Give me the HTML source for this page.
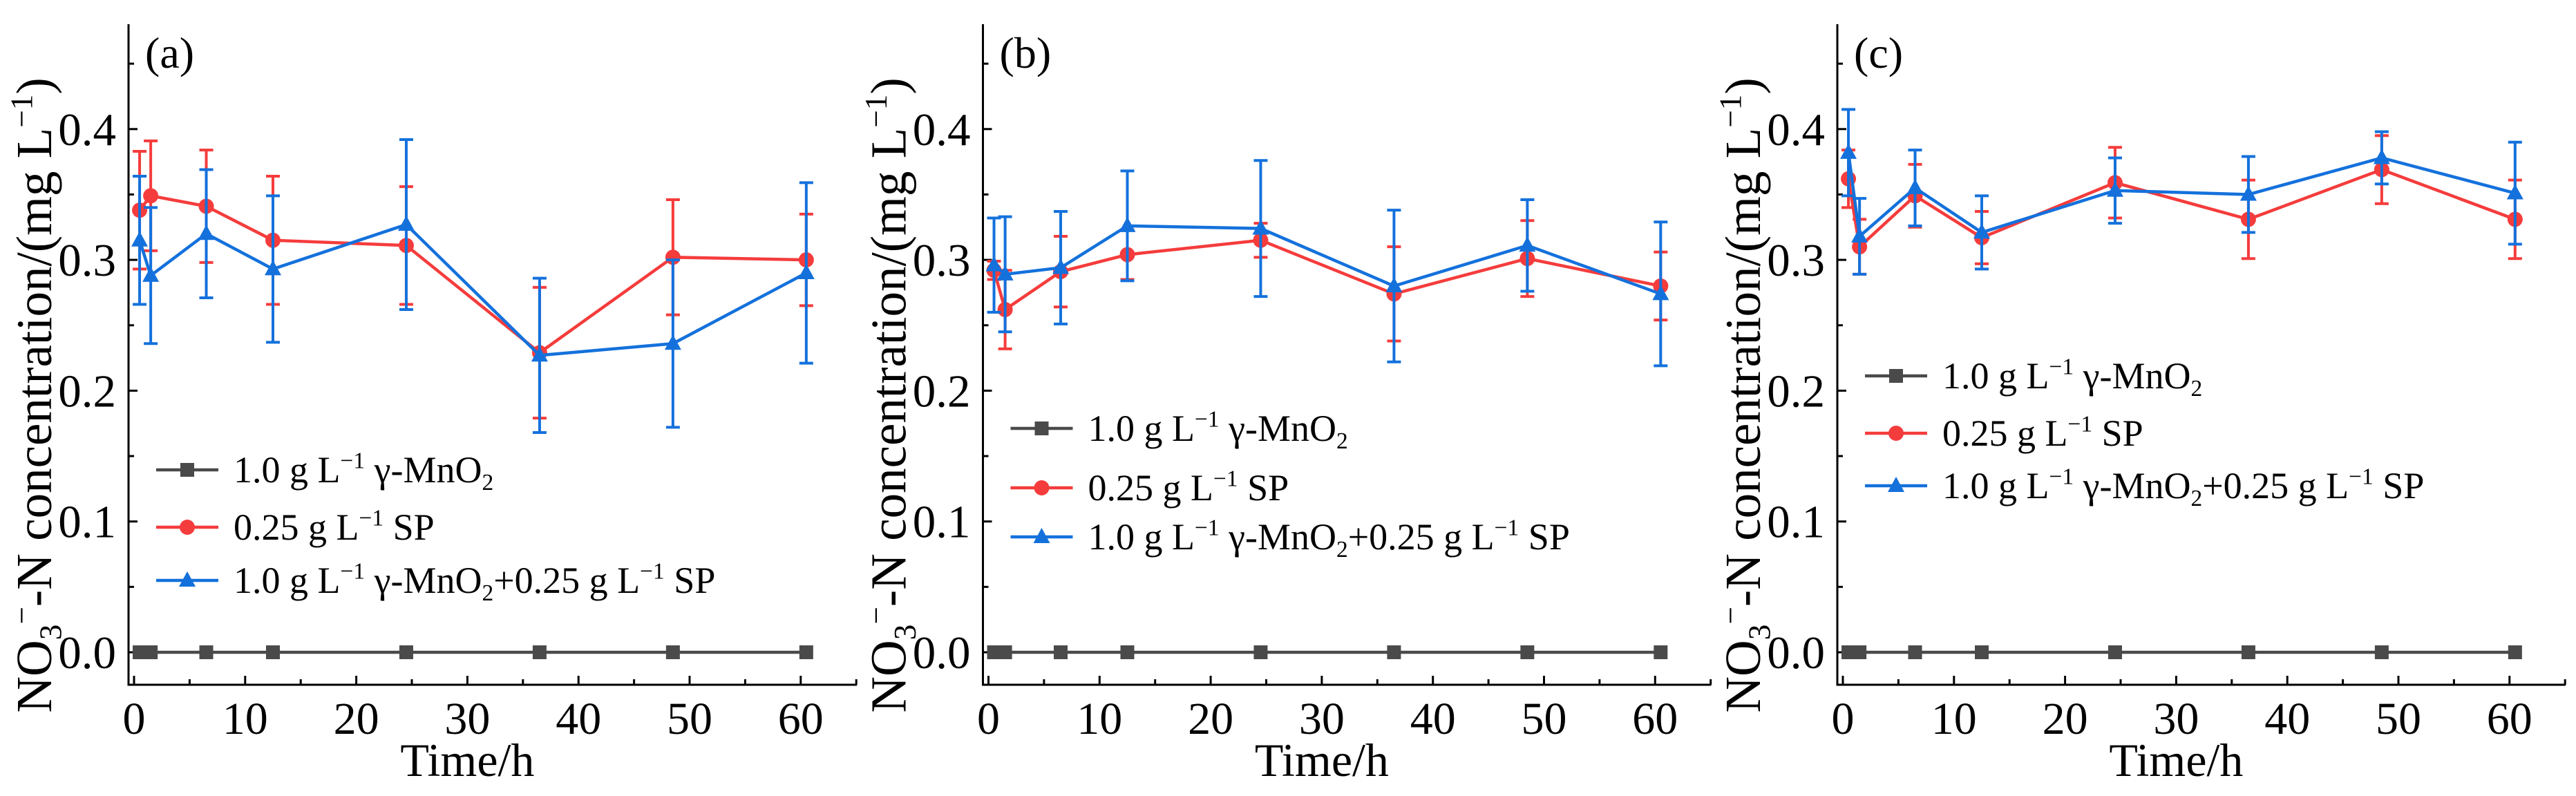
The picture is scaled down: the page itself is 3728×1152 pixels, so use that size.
<!DOCTYPE html>
<html><head><meta charset="utf-8"><style>
html,body{margin:0;padding:0;background:#fff;}
svg{display:block;font-family:"Liberation Serif","DejaVu Serif",serif;}
</style></head><body>
<svg id="chart" width="3728" height="1152" viewBox="0 0 3728 1152" xmlns="http://www.w3.org/2000/svg"></svg>
<script>
const times = [0.5, 1.5, 6.5, 12.5, 24.5, 36.5, 48.5, 60.5];
const panelLabels = ["(a)", "(b)", "(c)"];
const xTicks = [0, 10, 20, 30, 40, 50, 60];
const yTicks = [0.0, 0.1, 0.2, 0.3, 0.4];
const yTickLabels = ["0.0", "0.1", "0.2", "0.3", "0.4"];
const mnO2A = [0, 0, 0, 0, 0, 0, 0, 0];
const spA = [0.338, 0.349, 0.341, 0.315, 0.311, 0.229, 0.302, 0.300];
const spErrA = [0.045, 0.042, 0.043, 0.049, 0.045, 0.050, 0.044, 0.035];
const mixA = [0.315, 0.288, 0.320, 0.293, 0.327, 0.227, 0.236, 0.290];
const mixErrA = [0.049, 0.052, 0.049, 0.056, 0.065, 0.059, 0.064, 0.069];
const mnO2B = [0, 0, 0, 0, 0, 0, 0, 0];
const spB = [0.292, 0.262, 0.291, 0.304, 0.315, 0.274, 0.301, 0.280];
const spErrB = [0.007, 0.030, 0.027, 0.019, 0.013, 0.036, 0.029, 0.026];
const mixB = [0.296, 0.289, 0.294, 0.326, 0.324, 0.280, 0.311, 0.274];
const mixErrB = [0.036, 0.044, 0.043, 0.042, 0.052, 0.058, 0.035, 0.055];
const mnO2C = [0, 0, 0, 0, 0, 0, 0, 0];
const spC = [0.362, 0.310, 0.349, 0.317, 0.359, 0.331, 0.369, 0.331];
const spErrC = [0.022, 0.021, 0.024, 0.020, 0.027, 0.030, 0.026, 0.030];
const mixC = [0.382, 0.318, 0.355, 0.321, 0.353, 0.350, 0.378, 0.351];
const mixErrC = [0.033, 0.029, 0.029, 0.028, 0.025, 0.029, 0.020, 0.039];

const panels = [
  {mn: mnO2A, sp: spA, spE: spErrA, mix: mixA, mixE: mixErrA, legY: [680, 763, 840]},
  {mn: mnO2B, sp: spB, spE: spErrB, mix: mixB, mixE: mixErrB, legY: [620, 706, 777]},
  {mn: mnO2C, sp: spC, spE: spErrC, mix: mixC, mixE: mixErrC, legY: [544, 627, 703]}
];
const RED = "#f53c3c", BLUE = "#1471dc", GRAY = "#4a4a4a";
const NS = "http://www.w3.org/2000/svg";
const svg = document.getElementById("chart");
function mk(tag, attrs, parent) {
  const e = document.createElementNS(NS, tag);
  for (const k in attrs) e.setAttribute(k, attrs[k]);
  (parent || svg).appendChild(e);
  return e;
}
function richText(parent, x, y, size, parts, attrs) {
  const t = mk("text", Object.assign({x: x, y: y, "font-size": size, fill: "#000"}, attrs || {}), parent);
  let shift = 0;
  parts.forEach(p => {
    const s = mk("tspan", {}, t);
    s.textContent = p[0];
    let target = 0;
    if (p[1] === "sup") { target = -size * 0.38; s.setAttribute("font-size", size * 0.62); }
    if (p[1] === "sub") { target = size * 0.2; s.setAttribute("font-size", size * 0.62); }
    s.setAttribute("dy", target - shift);
    shift = target;
  });
  return t;
}
function marker(g, type, cx, cy, color) {
  if (type === "sq") return mk("rect", {x: cx - 10, y: cy - 10, width: 20, height: 20, fill: color}, g);
  if (type === "ci") return mk("circle", {cx: cx, cy: cy, r: 11, fill: color}, g);
  return mk("polygon", {points: `${cx},${cy - 13} ${cx - 12},${cy + 9} ${cx + 12},${cy + 9}`, fill: color}, g);
}

panels.forEach((p, i) => {
  const ax = 186 + i * 1236.5;
  const x0 = ax + 8;
  const xS = v => x0 + v * 16.08;
  const yS = v => 944 - v * 1893;
  const g = mk("g", {});
  
  

  const axes = mk("g", {}, g);
  
  
  mk("line", {x1: ax, y1: 35, x2: ax, y2: 992, stroke: "#000", "stroke-width": 3}, axes);
  mk("line", {x1: ax - 1.5, y1: 991, x2: ax + 1054, y2: 991, stroke: "#000", "stroke-width": 3}, axes);
  for (let v = 0; v <= 0.45001; v += 0.05) {
    const major = Math.round(v * 100) % 10 === 0;
    mk("line", {x1: ax, y1: yS(v), x2: ax + (major ? 13 : 8), y2: yS(v), stroke: "#000", "stroke-width": 3}, axes);
  }
  for (let v = 0; v <= 65; v += 5) {
    const major = v % 10 === 0;
    mk("line", {x1: xS(v), y1: 991, x2: xS(v), y2: 991 - (major ? 13 : 8), stroke: "#000", "stroke-width": 3}, axes);
  }
  yTicks.forEach((v, k) => {
    const t = mk("text", {x: ax - 18, y: yS(v) + 23, "font-size": 67, "text-anchor": "end"}, axes);
    t.textContent = yTickLabels[k];
    
    
  });
  xTicks.forEach(v => {
    const t = mk("text", {x: xS(v), y: 1062, "font-size": 66, "text-anchor": "middle"}, axes);
    t.textContent = v;
    
    
  });
  const xt = mk("text", {x: xS(30), y: 1123, "font-size": 68, "text-anchor": "middle"}, axes);
  xt.textContent = "Time/h";
  
  
  const yg = mk("g", {transform: `translate(${ax - 112},572) rotate(-90)`}, axes);
  const yt = richText(yg, 0, 0, 73, [["NO"], ["3", "sub"], ["\u2212", "sup"], ["-N concentration/(mg L"], ["\u22121", "sup"], [")"]], {"text-anchor": "middle"});
  
  
  const pl = mk("text", {x: ax + 24, y: 98, "font-size": 64}, g);
  pl.textContent = panelLabels[i];
  
  

  const series = [
    {vals: p.mn, err: null, color: GRAY, m: "sq", name: "series-mno2"},
    {vals: p.sp, err: p.spE, color: RED, m: "ci", name: "series-sp"},
    {vals: p.mix, err: p.mixE, color: BLUE, m: "tr", name: "series-mno2-sp"}
  ];
  series.forEach(s => {
    const sg = mk("g", {}, g);
    
    
    mk("polyline", {points: s.vals.map((v, k) => xS(times[k]) + "," + yS(v)).join(" "), fill: "none", stroke: s.color, "stroke-width": 4.5}, sg);
    if (s.err) s.vals.forEach((v, k) => {
      const x = xS(times[k]), e = s.err[k];
      const eb = mk("path", {d: `M${x},${yS(v + e)}V${yS(v - e)}M${x - 10},${yS(v + e)}h20M${x - 10},${yS(v - e)}h20`, stroke: s.color, "stroke-width": 4, fill: "none"}, sg);
      
      
    });
    s.vals.forEach((v, k) => {
      const mm = marker(sg, s.m, xS(times[k]), yS(v), s.color);
      
      
    });
  });

  const lg = mk("g", {}, g);
  
  
  const labels = [
    [["1.0 g L"], ["\u22121", "sup"], [" \u03b3-MnO"], ["2", "sub"]],
    [["0.25 g L"], ["\u22121", "sup"], [" SP"]],
    [["1.0 g L"], ["\u22121", "sup"], [" \u03b3-MnO"], ["2", "sub"], ["+0.25 g L"], ["\u22121", "sup"], [" SP"]]
  ];
  series.forEach((s, k) => {
    const y = p.legY[k];
    const e = mk("g", {}, lg);
    
    
    mk("line", {x1: ax + 40, y1: y, x2: ax + 130, y2: y, stroke: s.color, "stroke-width": 4.5}, e);
    marker(e, s.m, ax + 85, y, s.color);
    richText(e, ax + 152, y + 18, 54, labels[k]);
  });
});
</script>
</body></html>
